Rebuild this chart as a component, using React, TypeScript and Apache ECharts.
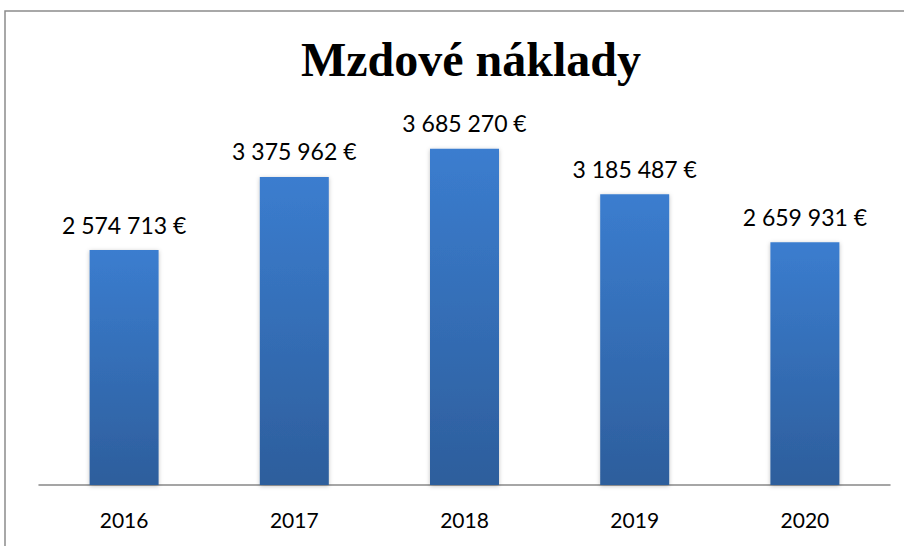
import React, { useEffect, useRef } from "react";
import * as echarts from "echarts";

const categories = ["2016", "2017", "2018", "2019", "2020"];
const values = [2574713, 3375962, 3685270, 3185487, 2659931];
const titleText = "Mzdové náklady";

function fmt(v: number): string {
  return String(Math.round(v)).replace(/\B(?=(\d{3})+(?!\d))/g, " ") + " €";
}

export default function App() {
  const ref = useRef<HTMLDivElement>(null);
  useEffect(() => {
    if (!ref.current) return;
    const chart = echarts.init(ref.current, null, { renderer: "svg" });
    chart.setOption({
      animation: false,
      backgroundColor: "#ffffff",
      graphic: [
        {
          type: "rect",
          shape: { x: 5, y: 11, width: 960, height: 600 },
          style: { fill: "none", stroke: "#8c8c8c", lineWidth: 1.5 },
          silent: true,
          z: 10,
        },
      ],
      title: {
        text: titleText,
        left: 466,
        top: 30,
        textAlign: "center",
        textStyle: {
          fontFamily: "Liberation Serif",
          fontWeight: "bold",
          fontSize: 48,
          color: "#000000",
        },
      },
      grid: { left: 39, right: 14, top: 120, bottom: 61, containLabel: false },
      xAxis: {
        type: "category",
        data: categories,
        axisLine: { show: true, lineStyle: { color: "#888888", width: 1.5 } },
        axisTick: { show: false },
        axisLabel: {
          fontFamily: "Lato",
          fontSize: 21,
          color: "#000000",
          margin: 24,
        },
      },
      yAxis: {
        type: "value",
        min: 0,
        max: 4000000,
        show: false,
        splitLine: { show: false },
      },
      series: [
        {
          type: "bar",
          data: values,
          barWidth: 69,
          itemStyle: {
            color: new echarts.graphic.LinearGradient(0, 0, 0, 1, [
              { offset: 0, color: "#3b7dcf" },
              { offset: 1, color: "#2d5e9c" },
            ]),
            shadowColor: "rgba(0,0,0,0.25)",
            shadowBlur: 4,
            shadowOffsetX: 0,
            shadowOffsetY: 1,
          },
          label: {
            show: true,
            position: "top",
            distance: 14,
            fontFamily: "Lato",
            fontSize: 23,
            color: "#000000",
            formatter: (p: any) => fmt(p.value),
          },
        },
      ],
    });
    return () => chart.dispose();
  }, []);
  return (
    <div
      ref={ref}
      style={{ position: "fixed", left: 0, top: 0, width: 904, height: 546 }}
    />
  );
}
